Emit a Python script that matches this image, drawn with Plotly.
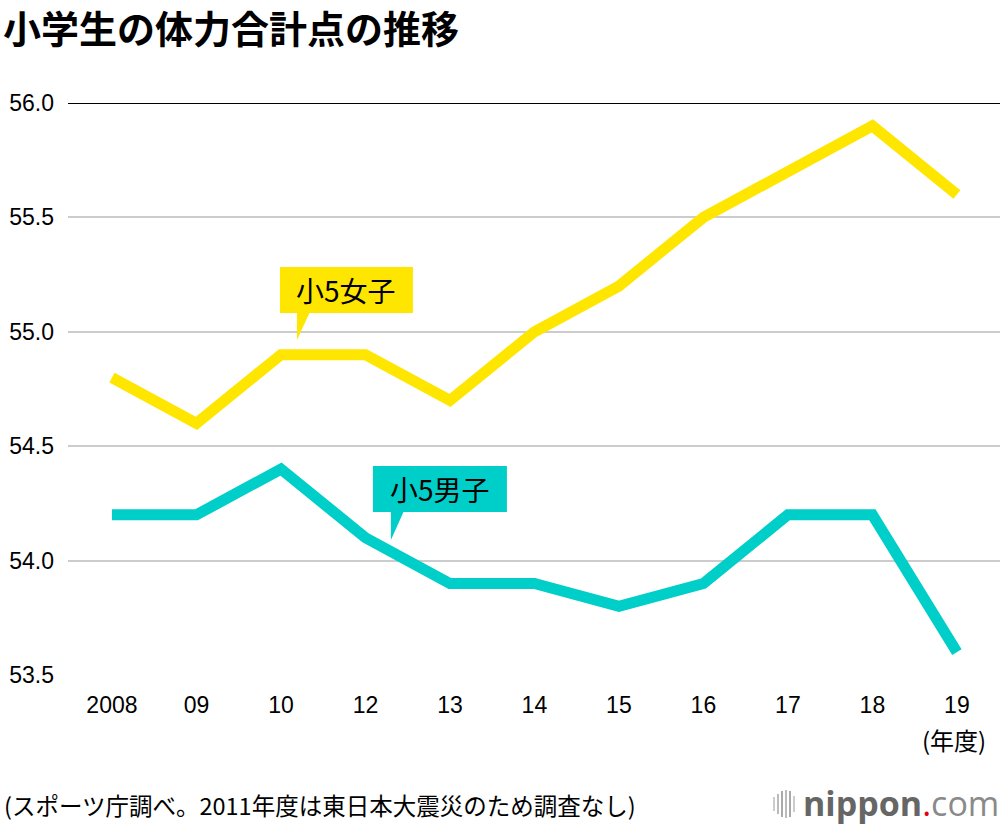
import plotly.graph_objects as go

years = ["2008", "09", "10", "12", "13", "14", "15", "16", "17", "18", "19"]
girls = [54.8, 54.6, 54.9, 54.9, 54.7, 55.0, 55.2, 55.5, 55.7, 55.9, 55.6]
boys = [54.2, 54.2, 54.4, 54.1, 53.9, 53.9, 53.8, 53.9, 54.2, 54.2, 53.6]
y_ticks = [53.5, 54.0, 54.5, 55.0, 55.5, 56.0]

YELLOW = "#FFE600"
TEAL = "#00CEC8"
FONT = "Noto Sans CJK JP"
LAT = "Liberation Sans"

W, H = 1000, 826
L, R, T, B = 68, 0, 103, 151
PW, PH = W - L - R, H - T - B

xi = list(range(len(years)))

fig = go.Figure()
fig.add_trace(go.Scatter(x=xi, y=girls, mode="lines",
                         line=dict(color=YELLOW, width=11), hoverinfo="skip"))
fig.add_trace(go.Scatter(x=xi, y=boys, mode="lines",
                         line=dict(color=TEAL, width=11), hoverinfo="skip"))

def px2x(p):
    return (p - 112) / 84.5

def px2y(p):
    return 56.0 - (p - 103) / 228.8

def pxp(p):
    return (p - L) / PW

def pyp(p):
    return (H - p - B) / PH

shapes = []
shapes.append(dict(type="line", xref="paper", yref="y", x0=0, x1=1, y0=56.0, y1=56.0,
                   line=dict(color="black", width=2), layer="above"))

def callout(x0, x1, y0, y1, bx0, bx1, tipx, tipy, color):
    shapes.append(dict(type="rect", xref="x", yref="y",
                       x0=px2x(x0), x1=px2x(x1), y0=px2y(y1), y1=px2y(y0),
                       fillcolor=color, line=dict(width=0), layer="above"))
    path = "M {},{} L {},{} L {},{} Z".format(
        px2x(bx0), px2y(y1 - 1), px2x(bx1), px2y(y1 - 1), px2x(tipx), px2y(tipy))
    shapes.append(dict(type="path", xref="x", yref="y", path=path,
                       fillcolor=color, line=dict(width=0), layer="above"))

callout(280, 413, 267, 313, 297, 310, 297, 340, YELLOW)
callout(373, 507, 466, 512, 391, 404, 391, 540, TEAL)

# logo bars
bar_x = [774, 778, 782, 786, 790, 794]
bar_h = [14, 20, 26, 28, 26, 16]
bar_c = ["#CCCCCC", "#BBBBBB", "#AAAAAA", "#BBBBBB", "#AAAAAA", "#CCCCCC"]
for bx, bh, bc in zip(bar_x, bar_h, bar_c):
    shapes.append(dict(type="line", xref="paper", yref="paper",
                       x0=pxp(bx), x1=pxp(bx),
                       y0=pyp(804 + bh / 2), y1=pyp(804 - bh / 2),
                       line=dict(color=bc, width=2)))

annotations = [
    dict(text="<b>小学生の体力合計点の推移</b>", xref="paper", yref="paper",
         x=pxp(1), y=pyp(26), xanchor="left", yanchor="middle",
         showarrow=False, font=dict(size=38, color="black", family=FONT)),
    dict(text="小5女子", xref="x", yref="y", x=px2x(346.5), y=px2y(290),
         xanchor="center", yanchor="middle", showarrow=False,
         font=dict(size=28, color="black", family=FONT)),
    dict(text="小5男子", xref="x", yref="y", x=px2x(440), y=px2y(489),
         xanchor="center", yanchor="middle", showarrow=False,
         font=dict(size=28, color="black", family=FONT)),
    dict(text="(年度)", xref="paper", yref="paper",
         x=pxp(988), y=pyp(740), xanchor="right", yanchor="middle",
         showarrow=False, font=dict(size=24, color="black", family=FONT)),
    dict(text="(スポーツ庁調べ。2011年度は東日本大震災のため調査なし)", xref="paper", yref="paper",
         x=pxp(2), y=pyp(805), xanchor="left", yanchor="middle",
         showarrow=False, font=dict(size=23.5, color="black", family=FONT)),
    dict(text="<b><span style='color:#666666'>nippon</span></b><span style='color:#E60012'>.</span><span style='color:#8A8A8A'>com</span>",
         xref="paper", yref="paper",
         x=pxp(1001), y=pyp(803), xanchor="right", yanchor="middle",
         showarrow=False, font=dict(size=34, family="Open Sans")),
]

fig.update_layout(
    width=W, height=H,
    margin=dict(l=L, r=R, t=T, b=B),
    paper_bgcolor="white", plot_bgcolor="white",
    showlegend=False,
    shapes=shapes,
    annotations=annotations,
    xaxis=dict(range=[-0.52, 10.51], tickmode="array", tickvals=xi, ticktext=years,
               showgrid=False, zeroline=False, showline=False, ticks="",
               ticklabelstandoff=14,
               tickfont=dict(size=23, color="black", family=LAT)),
    yaxis=dict(range=[53.5, 56.0], tickmode="array", tickvals=y_ticks,
               ticktext=["{:.1f}".format(v) for v in y_ticks],
               showgrid=True, gridcolor="#CCCCCC", gridwidth=2, zeroline=False,
               showline=False, ticks="", ticklen=0, ticklabelstandoff=13,
               tickfont=dict(size=23, color="black", family=LAT)),
)

fig.write_html("out.html", config={"displayModeBar": False},
               post_script="document.body.style.margin='0';document.body.style.overflow='hidden';")
